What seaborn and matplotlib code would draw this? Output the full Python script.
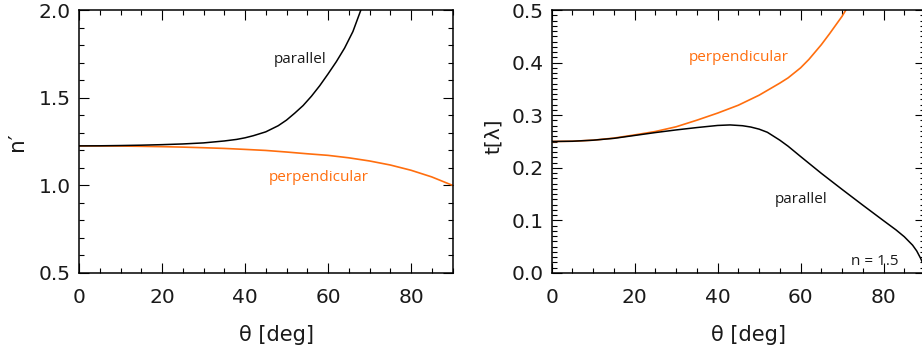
import matplotlib
matplotlib.use("Agg")
import matplotlib.pyplot as plt
import seaborn as sns
from matplotlib.ticker import MultipleLocator

# ---- data ----
theta_n_par = [0, 5, 10, 15, 20, 25, 30, 35, 38, 40, 42, 45, 48, 50, 52, 54, 56, 58, 60, 62, 64, 66, 68, 70]
n_par = [1.225, 1.2255, 1.227, 1.229, 1.232, 1.236, 1.242, 1.253, 1.262, 1.271, 1.283, 1.305, 1.34,
         1.372, 1.412, 1.455, 1.508, 1.568, 1.635, 1.705, 1.783, 1.877, 2.005, 2.15]

theta_n_perp = [0, 5, 10, 15, 20, 25, 30, 35, 40, 45, 50, 55, 60, 65, 70, 75, 80, 85, 90]
n_perp = [1.225, 1.2245, 1.224, 1.2225, 1.2205, 1.218, 1.2145, 1.2105, 1.205, 1.199, 1.19,
          1.18, 1.171, 1.157, 1.139, 1.116, 1.086, 1.048, 1.0]

theta_t_par = [0, 5, 10, 15, 20, 25, 30, 35, 40, 43, 46, 48, 50, 52, 55, 57, 60, 65, 70, 75,
               80, 83, 85, 87, 88, 89, 90]
t_par = [0.250, 0.2505, 0.2525, 0.256, 0.2615, 0.267, 0.272, 0.2765, 0.2805, 0.2815, 0.2800,
         0.2775, 0.2735, 0.2675, 0.2525, 0.2410, 0.2215, 0.1895, 0.159, 0.129, 0.0995, 0.082,
         0.069, 0.053, 0.042, 0.027, 0.008]

theta_t_perp = [0, 5, 10, 15, 20, 25, 30, 35, 40, 45, 50, 55, 57, 60, 62, 65, 67, 70, 71, 73]
t_perp = [0.250, 0.2505, 0.2525, 0.2565, 0.2625, 0.269, 0.278, 0.2905, 0.304, 0.319, 0.338,
          0.361, 0.371, 0.390, 0.406, 0.434, 0.455, 0.488, 0.501, 0.53]

x_ticks = [0, 20, 40, 60, 80]
n_ticks = [0.5, 1.0, 1.5, 2.0]
t_ticks = [0.0, 0.1, 0.2, 0.3, 0.4, 0.5]

ORANGE = "#FF6E0E"
TXT = "#1a1a1a"

sns.set_theme(style="ticks")
plt.rcParams['font.family'] = ['DejaVu Sans']

fig = plt.figure(figsize=(9.22, 3.45), dpi=100)
W, H = 922.0, 345.0
ax1 = fig.add_axes([79 / W, 1 - 273 / H, 373.5 / W, 263 / H])
ax2 = fig.add_axes([551.7 / W, 1 - 273 / H, 373.3 / W, 263 / H])

sns.lineplot(x=theta_n_perp, y=n_perp, ax=ax1, color=ORANGE, lw=1.2)
sns.lineplot(x=theta_n_par, y=n_par, ax=ax1, color="black", lw=1.1)
sns.lineplot(x=theta_t_perp, y=t_perp, ax=ax2, color=ORANGE, lw=1.2)
sns.lineplot(x=theta_t_par, y=t_par, ax=ax2, color="black", lw=1.1)

for ax in (ax1, ax2):
    ax.set_xlim(0, 90)
    ax.set_xticks(x_ticks)
    ax.xaxis.set_minor_locator(MultipleLocator(5))
    for s in ax.spines.values():
        s.set_linewidth(1.1)
        s.set_color("black")
    ax.tick_params(which="major", direction="in", top=True, right=True, length=7,
                   width=0.8, color="black", labelsize=14.5, labelcolor=TXT)
    ax.tick_params(which="minor", direction="in", top=True, right=True, length=3.5,
                   width=0.8, color="black")
    ax.tick_params(axis="x", which="major", pad=11)
    ax.set_xlabel("θ [deg]", fontsize=15, color=TXT, va="center")
    ax.xaxis.set_label_coords(0.528, -0.235)

ax1.set_ylim(0.5, 2.0)
ax1.set_yticks(n_ticks)
ax1.set_yticklabels(["0.5", "1.0", "1.5", "2.0"])
ax1.yaxis.set_minor_locator(MultipleLocator(0.1))
ax1.tick_params(axis="y", which="major", pad=6)
ax1.set_ylabel("n′", fontsize=15.5, color=TXT, va="center")
ax1.yaxis.set_label_coords(-0.166, 0.5)

ax2.set_ylim(0.0, 0.5)
ax2.set_yticks(t_ticks)
ax2.set_yticklabels(["0.0", "0.1", "0.2", "0.3", "0.4", "0.5"])
ax2.yaxis.set_minor_locator(MultipleLocator(0.01))
ax2.tick_params(axis="y", which="major", pad=6)
ax2.set_ylabel("t[λ]", fontsize=14.5, color=TXT, va="center")
ax2.yaxis.set_label_coords(-0.157, 0.52)

fam = ["Open Sans", "DejaVu Sans"]
ax1.text(53.3, 1.72, "parallel", color=TXT, fontsize=11, ha="center", va="center", family=fam)
ax1.text(57.8, 1.047, "perpendicular", color=ORANGE, fontsize=11, ha="center", va="center", family=fam)
ax2.text(45.1, 0.409, "perpendicular", color=ORANGE, fontsize=11, ha="center", va="center", family=fam)
ax2.text(60.1, 0.139, "parallel", color=TXT, fontsize=11, ha="center", va="center", family=fam)
ax2.text(77.9, 0.022, "n = 1.5", color=TXT, fontsize=11, ha="center", va="center", family=fam)

fig.savefig("out.png", dpi=100)
